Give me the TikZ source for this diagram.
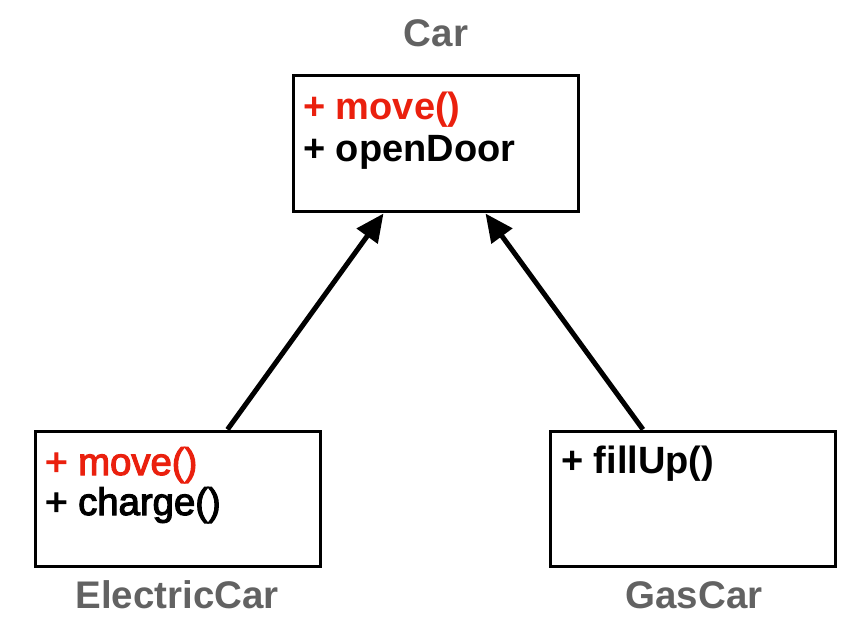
\documentclass[tikz,border=0pt]{standalone}
\usepackage{fontspec}
\setmainfont{Liberation Sans}
\newfontfamily\medfont[FakeBold=3]{Liberation Sans}
\usetikzlibrary{arrows.meta}
\definecolor{umlred}{RGB}{234,32,14}
\definecolor{umlgray}{RGB}{98,98,98}
\begin{document}
\begin{tikzpicture}[x=1pt,y=-1pt,
  umlbox/.style={draw=black,line width=3pt,minimum width=285pt,minimum height=135pt,inner sep=0pt},
  boldtxt/.style={font=\fontsize{38}{45}\selectfont\bfseries,anchor=base west,inner sep=0pt},
  medtxt/.style={font=\fontsize{38.3}{45}\selectfont\medfont,anchor=base west,inner sep=0pt},
  classlabel/.style={font=\fontsize{38.5}{45}\selectfont\bfseries,text=umlgray,anchor=base,inner sep=0pt},
  inherit/.style={line width=5pt,-{Triangle[length=28pt,width=25pt]}}]
\useasboundingbox (0,0) rectangle (859,639);
% boxes
\node[umlbox,minimum height=136pt] (car) at (435.5,144) {};
\node[umlbox] (elec) at (177.5,498.5) {};
\node[umlbox] (gas) at (693,498.5) {};
% labels
\node[classlabel] (carlbl) at (436,47) {Car};
\node[classlabel] (eleclbl) at (177,608) {ElectricCar};
\node[classlabel] (gaslbl) at (694,608) {GasCar};
% members
\node[boldtxt,text=umlred] (carm1) at (303,120) {+ move()};
\node[boldtxt] (carm2) at (303,162) {+ openDoor};
\node[medtxt,text=umlred] (elecm1) at (45,475) {+ move()};
\node[medtxt] (elecm2) at (45,515) {+ charge()};
\node[boldtxt] (gasm1) at (561,473) {+ fillUp()};
% arrows
\draw[inherit] ([xshift=194pt]elec.north west) -- ([xshift=92pt]car.south west);
\draw[inherit] ([xshift=94pt]gas.north west) -- ([xshift=194pt]car.south west);
\end{tikzpicture}
\end{document}
